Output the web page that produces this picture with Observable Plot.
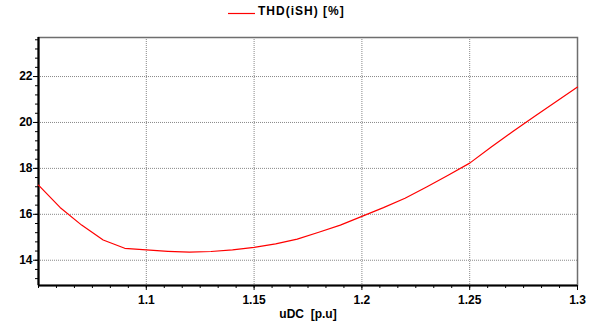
<!DOCTYPE html>
<html>
<head>
<meta charset="utf-8">
<script src="https://cdn.jsdelivr.net/npm/d3@7"></script>
<script src="https://cdn.jsdelivr.net/npm/@observablehq/plot@0.6"></script>
<style>
  body { margin: 0; background: #fff; font-family: "Liberation Sans", Arial, sans-serif; }
  #legend { position: relative; width: 595px; height: 28px; }
  #legend svg { position: absolute; left: 228px; top: 10px; }
  #legend .label { position: absolute; left: 258px; top: 4px; font-size: 12px; font-weight: bold; letter-spacing: 1px; color: #000; }
</style>
</head>
<body>
<div id="legend"><svg width="28" height="6"><line x1="0" y1="3.5" x2="27" y2="3.5" stroke="#ff0000" stroke-width="1.2"></line></svg><div class="label">THD(iSH) [%]</div></div>
<div id="chart"></div>
<script>
const seriesName = "THD(iSH) [%]";
const xLabel = "uDC\u00a0\u00a0[p.u]";
const uDC = [1.05, 1.06, 1.07, 1.08, 1.09, 1.10, 1.11, 1.12, 1.13, 1.14, 1.15, 1.16, 1.17, 1.18, 1.19, 1.20, 1.21, 1.22, 1.23, 1.24, 1.25, 1.26, 1.27, 1.28, 1.29, 1.30];
const thd = [17.27, 16.30, 15.53, 14.88, 14.52, 14.45, 14.39, 14.35, 14.38, 14.45, 14.56, 14.71, 14.92, 15.22, 15.53, 15.91, 16.29, 16.70, 17.19, 17.70, 18.23, 18.93, 19.61, 20.26, 20.90, 21.54];
const xTicks = [1.1, 1.15, 1.2, 1.25, 1.3];
const yTicks = [14, 16, 18, 20, 22];
const xDomain = [1.05, 1.3];
const yDomain = [12.9, 23.7];

const data = uDC.map((x, i) => ({x, y: thd[i]}));
const xMinor = d3.range(0, 31).map(i => xDomain[0] + i * 0.05 / 6).filter(v => v <= xDomain[1] + 1e-9);
const yMinor = d3.range(-3, 30).map(i => 14 + i * 0.4).filter(v => v >= yDomain[0] && v <= yDomain[1]);

const chart = Plot.plot({
  width: 595,
  height: 295,
  marginTop: 9,
  marginBottom: 38,
  marginLeft: 38,
  marginRight: 18,
  style: {fontFamily: "Liberation Sans, Arial, sans-serif", fontSize: "12px", fontWeight: "bold", color: "#000", background: "#fff"},
  x: {domain: xDomain},
  y: {domain: yDomain},
  marks: [
    Plot.gridX(xTicks.filter(v => v < xDomain[1]), {stroke: "#888", strokeOpacity: 1, strokeDasharray: "1,1"}),
    Plot.gridY(yTicks, {stroke: "#888", strokeOpacity: 1, strokeDasharray: "1,1"}),
    Plot.frame({stroke: "#6e6e6e", strokeWidth: 1.5}),
    Plot.axisX(xMinor, {tickSize: 3, text: null, stroke: "#000", label: null}),
    Plot.axisY(yMinor, {tickSize: 3, text: null, stroke: "#000", label: null}),
    Plot.axisX(xTicks, {tickSize: 5, tickPadding: 5, stroke: "#000", fill: "#000", fontWeight: "bold", fontSize: 12, label: null, tickFormat: d => String(d)}),
    Plot.axisY(yTicks, {tickSize: 5, tickPadding: 1, stroke: "#000", fill: "#000", fontWeight: "bold", fontSize: 12, label: null}),
    Plot.ruleX([xDomain[0]], {stroke: "#000", strokeWidth: 2.2}),
    Plot.ruleY([yDomain[0]], {stroke: "#000", strokeWidth: 2.2}),
    Plot.line(data, {x: "x", y: "y", stroke: "#ff0000", strokeWidth: 1.2}),
    Plot.text([xLabel], {frameAnchor: "bottom", dy: 29, text: d => d, fontWeight: "bold", fontSize: 12, fill: "#000", lineAnchor: "middle"})
  ]
});
document.getElementById("chart").appendChild(chart);
</script>
</body>
</html>
